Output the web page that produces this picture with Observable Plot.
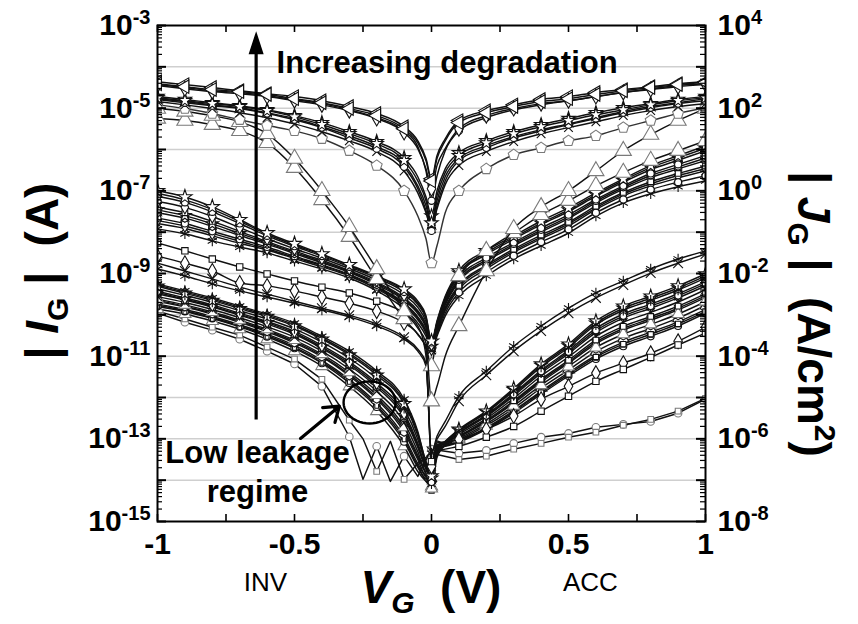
<!DOCTYPE html>
<html><head><meta charset="utf-8">
<script src="https://cdn.jsdelivr.net/npm/d3@7"></script>
<script src="https://cdn.jsdelivr.net/npm/@observablehq/plot@0.6"></script>
<style>body{margin:0;background:#fff}#chart{width:858px;height:624px}</style>
</head><body><div id="chart"></div>
<script>
// ---------- data: gate voltage grids (V) ----------
const VG = [-1,-0.9,-0.8,-0.7,-0.6,-0.5,-0.4,-0.3,-0.2,-0.1,-0.05,-0.02,0,0.02,0.05,0.1,0.2,0.3,0.4,0.5,0.6,0.7,0.8,0.9,1];
const VG_fine = [-1,-0.9,-0.8,-0.7,-0.6,-0.5,-0.4,-0.3,-0.25,-0.2,-0.15,-0.1,-0.05,0,0.1,0.2,0.3,0.4,0.5,0.6,0.7,0.8,0.9,1];

// ---------- data: log10 |IG| (A) ----------
const A1 = [-4.41,-4.48,-4.55,-4.60,-4.67,-4.77,-4.87,-5.01,-5.18,-5.50,-5.84,-6.27,-6.76,-6.22,-5.79,-5.35,-5.11,-4.96,-4.84,-4.77,-4.67,-4.58,-4.50,-4.43,-4.38];
const A2 = [-4.45,-4.53,-4.60,-4.65,-4.72,-4.82,-4.92,-5.06,-5.25,-5.59,-5.98,-6.47,-6.95,-6.39,-5.98,-5.50,-5.18,-5.01,-4.89,-4.82,-4.72,-4.62,-4.55,-4.48,-4.43];
const A3 = [-4.36,-4.43,-4.50,-4.58,-4.65,-4.72,-4.82,-4.96,-5.13,-5.45,-5.79,-6.22,-6.71,-6.15,-5.74,-5.30,-5.06,-4.92,-4.79,-4.72,-4.62,-4.55,-4.48,-4.41,-4.36];
const A4 = [-4.43,-4.50,-4.58,-4.62,-4.70,-4.79,-4.89,-5.04,-5.23,-5.55,-5.93,-6.52,-7.24,-6.64,-6.03,-5.55,-5.23,-5.04,-4.92,-4.82,-4.72,-4.62,-4.53,-4.45,-4.41];
const B1 = [-4.75,-4.82,-4.89,-4.96,-5.06,-5.21,-5.40,-5.62,-5.86,-6.27,-6.76,-7.24,-7.78,-7.12,-6.56,-6.15,-5.84,-5.62,-5.45,-5.30,-5.16,-5.04,-4.92,-4.82,-4.75];
const B2 = [-4.79,-4.87,-4.94,-5.01,-5.13,-5.28,-5.47,-5.72,-5.98,-6.42,-6.95,-7.48,-7.97,-7.36,-6.76,-6.27,-5.96,-5.72,-5.55,-5.40,-5.25,-5.11,-4.99,-4.89,-4.82];
const B3 = [-4.77,-4.84,-4.92,-4.99,-5.11,-5.25,-5.45,-5.67,-5.93,-6.35,-6.88,-7.36,-7.85,-7.24,-6.66,-6.22,-5.91,-5.69,-5.52,-5.38,-5.23,-5.08,-4.96,-4.87,-4.77];
const B4 = [-4.72,-4.79,-4.87,-4.94,-5.04,-5.18,-5.35,-5.57,-5.81,-6.20,-6.66,-7.15,-7.61,-7.00,-6.47,-6.08,-5.79,-5.57,-5.40,-5.25,-5.11,-4.99,-4.89,-4.79,-4.72];
const B5 = [-4.84,-4.92,-5.01,-5.11,-5.23,-5.38,-5.57,-5.79,-6.05,-6.52,-7.05,-7.53,-7.92,-7.44,-6.85,-6.39,-6.05,-5.81,-5.62,-5.47,-5.33,-5.18,-5.06,-4.96,-4.89];
const C1 = [-4.92,-5.01,-5.13,-5.28,-5.42,-5.55,-5.74,-6.03,-6.39,-7.00,-7.61,-8.16,-8.75,-8.33,-7.53,-7.00,-6.47,-6.13,-5.96,-5.79,-5.67,-5.47,-5.30,-5.13,-4.99];
const D1 = [-5.01,-5.08,-5.18,-5.33,-5.62,-6.22,-7.00,-7.87,-8.89,-9.91,-10.32,-10.68,-12.09,-11.73,-11.00,-10.27,-8.94,-7.92,-7.39,-7.00,-6.52,-6.03,-5.64,-5.30,-5.01];
const D2 = [-5.25,-5.30,-5.40,-5.55,-5.84,-6.44,-7.22,-8.11,-9.13,-10.10,-10.47,-10.78,-11.24,-10.39,-9.67,-9.06,-8.45,-8.02,-7.58,-7.24,-6.88,-6.56,-6.27,-6.03,-5.79];
const E1 = [-7.00,-7.15,-7.39,-7.70,-8.02,-8.28,-8.53,-8.79,-9.06,-9.38,-9.67,-10.03,-10.64,-10.15,-9.55,-8.94,-8.45,-8.09,-7.73,-7.41,-7.05,-6.71,-6.39,-6.15,-5.91];
const E2 = [-7.13,-7.28,-7.51,-7.79,-8.09,-8.34,-8.58,-8.84,-9.11,-9.45,-9.75,-10.10,-10.67,-10.26,-9.69,-9.11,-8.62,-8.25,-7.90,-7.58,-7.21,-6.88,-6.58,-6.36,-6.15];
const E3 = [-7.26,-7.40,-7.62,-7.89,-8.16,-8.40,-8.63,-8.88,-9.16,-9.52,-9.82,-10.17,-10.71,-10.20,-9.62,-9.03,-8.54,-8.17,-7.82,-7.50,-7.13,-6.79,-6.49,-6.26,-6.03];
const E4 = [-7.39,-7.53,-7.74,-7.98,-8.23,-8.46,-8.68,-8.93,-9.21,-9.59,-9.90,-10.24,-10.74,-10.36,-9.82,-9.29,-8.80,-8.41,-8.07,-7.76,-7.37,-7.04,-6.78,-6.58,-6.40];
const E5 = [-7.53,-7.66,-7.86,-8.08,-8.29,-8.52,-8.74,-8.97,-9.27,-9.65,-9.97,-10.31,-10.78,-10.31,-9.76,-9.20,-8.71,-8.33,-7.99,-7.67,-7.29,-6.96,-6.68,-6.47,-6.27];
const E6 = [-7.66,-7.79,-7.98,-8.17,-8.36,-8.58,-8.79,-9.02,-9.32,-9.72,-10.05,-10.38,-10.81,-10.47,-9.96,-9.46,-8.97,-8.57,-8.24,-7.93,-7.53,-7.21,-6.97,-6.79,-6.64];
const E7 = [-7.79,-7.91,-8.09,-8.27,-8.43,-8.64,-8.84,-9.06,-9.37,-9.79,-10.12,-10.45,-10.85,-10.41,-9.89,-9.38,-8.89,-8.49,-8.16,-7.85,-7.45,-7.12,-6.88,-6.69,-6.52];
const E8 = [-7.92,-8.04,-8.21,-8.36,-8.50,-8.70,-8.89,-9.11,-9.42,-9.86,-10.20,-10.52,-10.88,-10.52,-10.03,-9.55,-9.06,-8.65,-8.33,-8.02,-7.61,-7.29,-7.07,-6.90,-6.76];
const E9 = [-7.06,-7.22,-7.45,-7.74,-8.05,-8.31,-8.55,-8.81,-9.08,-9.41,-9.71,-10.06,-10.65,-10.23,-9.72,-9.16,-8.67,-8.29,-7.95,-7.63,-7.25,-6.92,-6.63,-6.42,-6.21];
const E10 = [-7.46,-7.60,-7.80,-8.03,-8.26,-8.49,-8.71,-8.95,-9.24,-9.62,-9.93,-10.27,-10.76,-10.18,-9.58,-8.99,-8.50,-8.13,-7.78,-7.46,-7.09,-6.75,-6.44,-6.20,-5.97];
const E11 = [-7.72,-7.85,-8.03,-8.22,-8.40,-8.61,-8.81,-9.04,-9.34,-9.75,-10.08,-10.41,-10.83,-10.44,-9.86,-9.33,-8.84,-8.45,-8.12,-7.80,-7.41,-7.08,-6.83,-6.63,-6.46];
const F1 = [-8.26,-8.45,-8.65,-8.84,-9.01,-9.18,-9.33,-9.47,-9.67,-9.96,-10.27,-11.00,-13.55,-13.30,-13.25,-13.18,-12.96,-12.70,-12.33,-11.97,-11.61,-11.32,-11.03,-10.73,-10.44];
const F2 = [-8.58,-8.75,-8.94,-9.23,-9.30,-9.42,-9.57,-9.72,-9.91,-10.20,-10.47,-10.83,-13.67,-13.18,-13.11,-13.01,-12.77,-12.45,-12.04,-11.73,-11.41,-11.17,-10.93,-10.64,-10.30];
const F3 = [-8.89,-9.06,-9.25,-9.42,-9.57,-9.72,-9.88,-10.05,-10.27,-10.59,-10.88,-11.24,-13.35,-12.94,-12.58,-11.97,-11.36,-10.76,-10.27,-9.84,-9.47,-9.18,-8.89,-8.65,-8.45];
const F4 = [-8.75,-8.94,-9.13,-9.33,-9.50,-9.67,-9.84,-10.01,-10.22,-10.54,-10.83,-11.17,-13.30,-13.01,-12.70,-12.09,-11.46,-10.88,-10.39,-9.96,-9.59,-9.28,-8.99,-8.75,-8.53];
const G1 = [-9.25,-9.42,-9.59,-9.79,-9.98,-10.20,-10.52,-10.88,-11.36,-12.04,-12.82,-13.55,-13.70,-13.10,-13.07,-12.80,-12.37,-11.84,-11.26,-10.79,-10.24,-9.89,-9.65,-9.40,-9.11];
const G2 = [-9.31,-9.48,-9.65,-9.85,-10.04,-10.27,-10.59,-10.97,-11.46,-12.15,-12.92,-13.60,-13.90,-13.25,-13.06,-12.77,-12.33,-11.78,-11.19,-10.71,-10.15,-9.79,-9.55,-9.30,-9.01];
const G3 = [-9.37,-9.53,-9.70,-9.90,-10.10,-10.34,-10.66,-11.05,-11.55,-12.27,-13.01,-13.65,-14.10,-13.30,-13.10,-12.86,-12.46,-11.96,-11.41,-10.94,-10.43,-10.08,-9.84,-9.59,-9.30];
const G4 = [-9.43,-9.59,-9.76,-9.96,-10.16,-10.40,-10.74,-11.14,-11.65,-12.38,-13.11,-13.69,-13.80,-13.15,-13.08,-12.83,-12.42,-11.90,-11.34,-10.86,-10.33,-9.98,-9.74,-9.49,-9.20];
const G5 = [-9.49,-9.64,-9.81,-10.01,-10.22,-10.47,-10.81,-11.22,-11.75,-12.50,-13.21,-13.74,-14.00,-13.40,-13.12,-12.93,-12.55,-12.08,-11.56,-11.10,-10.61,-10.28,-10.04,-9.79,-9.49];
const G6 = [-9.56,-9.70,-9.87,-10.07,-10.29,-10.54,-10.88,-11.31,-11.85,-12.61,-13.31,-13.79,-13.75,-13.20,-13.11,-12.89,-12.51,-12.02,-11.48,-11.02,-10.52,-10.18,-9.94,-9.69,-9.39];
const G7 = [-9.62,-9.76,-9.93,-10.13,-10.35,-10.61,-10.95,-11.39,-11.94,-12.72,-13.40,-13.84,-14.20,-13.35,-13.14,-12.99,-12.64,-12.20,-11.70,-11.25,-10.79,-10.47,-10.23,-9.98,-9.68];
const G8 = [-9.68,-9.81,-9.98,-10.18,-10.41,-10.68,-11.02,-11.48,-12.04,-12.84,-13.50,-13.89,-13.85,-13.05,-13.13,-12.96,-12.59,-12.14,-11.63,-11.17,-10.70,-10.37,-10.13,-9.88,-9.58];
const G9 = [-9.74,-9.87,-10.04,-10.24,-10.47,-10.74,-11.10,-11.56,-12.14,-12.95,-13.60,-13.93,-14.05,-13.30,-13.17,-13.05,-12.73,-12.32,-11.85,-11.40,-10.98,-10.66,-10.42,-10.17,-9.87];
const G10 = [-9.80,-9.92,-10.09,-10.29,-10.53,-10.81,-11.17,-11.65,-12.23,-13.07,-13.69,-13.98,-13.90,-13.20,-13.18,-13.08,-12.77,-12.38,-11.92,-11.48,-11.07,-10.76,-10.52,-10.27,-9.96];
const G11 = [-9.86,-9.98,-10.15,-10.35,-10.59,-10.88,-11.24,-11.73,-12.33,-13.18,-13.79,-14.03,-14.15,-13.45,-13.16,-13.02,-12.68,-12.26,-11.77,-11.33,-10.89,-10.57,-10.33,-10.08,-9.77];
const G12 = [-9.28,-9.45,-9.62,-9.82,-10.01,-10.24,-10.56,-10.93,-11.41,-12.10,-12.87,-13.58,-14.05,-13.22,-13.09,-12.85,-12.44,-11.93,-11.37,-10.90,-10.38,-10.03,-9.79,-9.54,-9.25];
const G13 = [-9.46,-9.62,-9.79,-9.99,-10.19,-10.44,-10.78,-11.18,-11.70,-12.44,-13.16,-13.72,-13.95,-13.30,-13.07,-12.79,-12.35,-11.81,-11.22,-10.75,-10.20,-9.84,-9.60,-9.35,-9.06];
const G14 = [-9.65,-9.79,-9.96,-10.16,-10.38,-10.65,-10.99,-11.44,-12.00,-12.78,-13.45,-13.87,-14.25,-13.25,-13.17,-13.06,-12.75,-12.35,-11.88,-11.44,-11.02,-10.71,-10.47,-10.22,-9.92];
const G15 = [-9.77,-9.90,-10.07,-10.27,-10.50,-10.78,-11.14,-11.60,-12.19,-13.01,-13.65,-13.96,-13.70,-13.15,-13.12,-12.94,-12.58,-12.11,-11.59,-11.14,-10.66,-10.33,-10.09,-9.84,-9.54];
const H1 = [-9.96,-10.18,-10.37,-10.59,-10.88,-11.19,-11.73,-12.95,-13.98,-13.18,-14.03,-13.42,-13.91,-13.25,-13.35,-13.28,-13.11,-12.96,-12.87,-12.72,-12.65,-12.58,-12.38,-12.04];
const H2 = [-9.91,-10.10,-10.30,-10.49,-10.78,-11.07,-11.56,-12.55,-13.00,-13.79,-13.06,-13.98,-13.59,-13.35,-13.50,-13.42,-13.25,-13.11,-12.96,-12.84,-12.67,-12.53,-12.33,-12.02];

// ---------- axes / ticks ----------
const xTickLabels = [-1, -0.5, 0, 0.5, 1];
const xMinorTicks = [-1, -0.75, -0.5, -0.25, 0, 0.25, 0.5, 0.75, 1];
const yLabelExponents = [-15, -13, -11, -9, -7, -5, -3];
const yGridExponents = [-14, -13, -12, -11, -10, -9, -8, -7, -6, -5, -4];
const gateArea = 1e-7; // cm^2, JG = IG / area

// ---------- annotations (data space) ----------
const degradationArrow = [{V: -0.64, logFrom: -12.53, logTo: -3.62, logTip: -3.51}];
const leakageArrow = [{V1: -0.478, log1: -12.99, V2: -0.336, log2: -12.21}];
const leakageEllipse = [{V: -0.226, log: -12.12}];
const notes = [
  {V: 0.057, log: -3.85, text: "Increasing degradation"},
  {V: -0.635, log: -13.76, text: "Low leakage\nregime"}
];
const regionNotes = [{V: -0.606, text: "INV"}, {V: 0.58, text: "ACC"}];

// ---------- symbols ----------
const triLeft = {draw(ctx, size) {
  const y = -Math.sqrt(size / (Math.sqrt(3) * 3)), s = Math.sqrt(3);
  ctx.moveTo(2 * y, 0); ctx.lineTo(-y, -s * y); ctx.lineTo(-y, s * y); ctx.closePath();
}};
const pentagon = {draw(ctx, size) {
  const R = Math.sqrt(size / (2.5 * Math.sin(2 * Math.PI / 5)));
  for (let k = 0; k < 5; k++) {
    const a = -Math.PI / 2 + k * 2 * Math.PI / 5;
    if (k === 0) ctx.moveTo(R * Math.cos(a), R * Math.sin(a)); else ctx.lineTo(R * Math.cos(a), R * Math.sin(a));
  }
  ctx.closePath();
}};
const arrowHead = {draw(ctx) { ctx.moveTo(0, -13); ctx.lineTo(6.5, 7); ctx.lineTo(-6.5, 7); ctx.closePath(); }};
const ellipse = {draw(ctx) {
  const n = 48, rx = 26, ry = 21;
  for (let k = 0; k <= n; k++) {
    const a = k / n * 2 * Math.PI;
    if (k === 0) ctx.moveTo(rx * Math.cos(a), ry * Math.sin(a)); else ctx.lineTo(rx * Math.cos(a), ry * Math.sin(a));
  }
  ctx.closePath();
}};

const DARK = "#111", GRAY = "#7a7a7a";
const curves = [
  {v: VG_fine, logI: H1, symbol: "circle", r: 3.8, color: DARK, mk: GRAY, curve: "linear"},
  {v: VG_fine, logI: H2, symbol: "square", r: 3.2, color: DARK, mk: GRAY, curve: "linear"},
  {v: VG, logI: G11, symbol: "triangle", r: 4.5, color: DARK, mk: GRAY},
  {v: VG, logI: G15, symbol: "circle", r: 3.3, color: DARK, mk: DARK},
  {v: VG, logI: G10, symbol: "circle", r: 3.5, color: DARK, mk: DARK},
  {v: VG, logI: G9, symbol: "wye", r: 4, color: DARK, mk: DARK},
  {v: VG, logI: G14, symbol: "square", r: 3, color: DARK, mk: DARK},
  {v: VG, logI: G8, symbol: "hexagon", r: 3.5, color: DARK, mk: DARK},
  {v: VG, logI: G7, symbol: "triangle", r: 4.5, color: DARK, mk: GRAY},
  {v: VG, logI: G6, symbol: "times", r: 4, color: DARK, mk: DARK},
  {v: VG, logI: G5, symbol: "square", r: 3.2, color: DARK, mk: DARK},
  {v: VG, logI: G13, symbol: "star", r: 4, color: DARK, mk: DARK},
  {v: VG, logI: G4, symbol: "diamond", r: 4, color: DARK, mk: DARK},
  {v: VG, logI: G3, symbol: "asterisk", r: 4.5, color: DARK, mk: DARK},
  {v: VG, logI: G12, symbol: "circle", r: 3.3, color: DARK, mk: DARK},
  {v: VG, logI: G2, symbol: "star", r: 4.2, color: DARK, mk: DARK},
  {v: VG, logI: G1, symbol: "asterisk", r: 5, color: DARK, mk: DARK},
  {v: VG, logI: F4, symbol: "times", r: 4.5, color: DARK, mk: DARK},
  {v: VG, logI: F3, symbol: "asterisk", r: 5, color: DARK, mk: DARK},
  {v: VG, logI: F2, symbol: "diamond", r: 4.5, color: DARK, mk: DARK},
  {v: VG, logI: F1, symbol: "square", r: 3.6, color: DARK, mk: DARK},
  {v: VG, logI: E8, symbol: "asterisk", r: 5, color: DARK, mk: DARK},
  {v: VG, logI: E7, symbol: "times", r: 4, color: DARK, mk: DARK},
  {v: VG, logI: E11, symbol: "diamond", r: 3.8, color: DARK, mk: DARK},
  {v: VG, logI: E6, symbol: "circle", r: 3.5, color: DARK, mk: DARK},
  {v: VG, logI: E5, symbol: "hexagon", r: 3.6, color: DARK, mk: DARK},
  {v: VG, logI: E10, symbol: "star", r: 4, color: DARK, mk: DARK},
  {v: VG, logI: E4, symbol: "square", r: 3.2, color: DARK, mk: DARK},
  {v: VG, logI: E3, symbol: "diamond", r: 4, color: DARK, mk: DARK},
  {v: VG, logI: E9, symbol: "circle", r: 3.3, color: DARK, mk: DARK},
  {v: VG, logI: E2, symbol: "circle", r: 3.5, color: DARK, mk: DARK},
  {v: VG, logI: E1, symbol: "star", r: 4.5, color: DARK, mk: DARK},
  {v: VG, logI: D2, symbol: "triangle", r: 6, color: DARK, mk: GRAY},
  {v: VG, logI: D1, symbol: "triangle", r: 6, color: DARK, mk: GRAY},
  {v: VG, logI: C1, symbol: pentagon, r: 5, color: "#333", mk: GRAY},
  {v: VG, logI: B5, symbol: "times", r: 4, color: DARK, mk: DARK},
  {v: VG, logI: B4, symbol: "star", r: 4.2, color: DARK, mk: DARK},
  {v: VG, logI: B3, symbol: "asterisk", r: 4.5, color: DARK, mk: DARK},
  {v: VG, logI: B2, symbol: "circle", r: 3.6, color: DARK, mk: DARK},
  {v: VG, logI: B1, symbol: "star", r: 4.2, color: DARK, mk: DARK},
  {v: VG, logI: A4, symbol: "circle", r: 3.6, color: DARK, mk: DARK},
  {v: VG, logI: A3, symbol: triLeft, r: 5, color: DARK, mk: DARK},
  {v: VG, logI: A2, symbol: "diamond", r: 4.5, color: DARK, mk: DARK},
  {v: VG, logI: A1, symbol: triLeft, r: 5, color: DARK, mk: DARK}
];

const FONT = "'Liberation Sans', Arial, Helvetica, sans-serif";
const W = 858, H = 624, ML = 157, MR = 153, MT = 25, MB = 103;
const FW = W - ML - MR, FH = H - MT - MB;

const decades = d3.range(-15, -2).map(e => 10 ** e);
const minorTicks = [];
for (let e = -15; e < -3; e++) for (let k = 2; k <= 9; k++) minorTicks.push(k * 10 ** e);

const curveMarks = [];
for (const c of curves) {
  const rows = c.v.map((V, i) => ({V, I: 10 ** c.logI[i]}));
  const markerRows = rows.filter(d => Math.abs(d.V * 10 - Math.round(d.V * 10)) < 1e-6);
  curveMarks.push(Plot.line(rows, {x: "V", y: "I", stroke: c.color, strokeWidth: 1.45, curve: c.curve || "monotone-x", clip: true}));
  curveMarks.push(Plot.dot(markerRows, {x: "V", y: "I", symbol: c.symbol, r: c.r, stroke: c.mk, fill: "white", strokeWidth: 1.1, clip: true}));
}

const supFmt = e => "10^" + e;

const svg = Plot.plot({
  width: W, height: H,
  marginLeft: ML, marginRight: MR, marginTop: MT, marginBottom: MB,
  style: {fontFamily: FONT, background: "white", color: "black", overflow: "visible"},
  x: {domain: [-1, 1], axis: null, label: null},
  y: {type: "log", domain: [1e-15, 1e-3], axis: null, label: null},
  marks: [
    Plot.ruleY(yGridExponents.map(e => 10 ** e), {stroke: "#cfcfcf", strokeWidth: 1.5}),
    ...curveMarks,
    // annotations
    Plot.link(degradationArrow, {x1: "V", x2: "V", y1: d => 10 ** d.logFrom, y2: d => 10 ** d.logTo, stroke: "black", strokeWidth: 3.2}),
    Plot.dot(degradationArrow, {x: "V", y: d => 10 ** d.logTip, symbol: arrowHead, fill: "black", stroke: "black", r: 5}),
    Plot.arrow(leakageArrow, {x1: "V1", y1: d => 10 ** d.log1, x2: "V2", y2: d => 10 ** d.log2, stroke: "black", strokeWidth: 3.2, headLength: 11, headAngle: 70}),
    Plot.dot(leakageEllipse, {x: "V", y: d => 10 ** d.log, symbol: ellipse, r: 5, fill: "none", stroke: "black", strokeWidth: 2.4}),
    Plot.text(notes, {x: "V", y: d => 10 ** d.log, text: "text", fontSize: 31, fontWeight: "bold", lineHeight: 1.23, fill: "black"}),
    Plot.text(regionNotes, {x: "V", text: "text", frameAnchor: "bottom", dy: 69, fontSize: 26, fontWeight: "normal", fill: "black"}),
    // inner ticks
    Plot.tickX(xMinorTicks, {x: d => d, insetTop: FH - 7, stroke: "black", strokeWidth: 1.6}),
    Plot.tickX(xMinorTicks, {x: d => d, insetBottom: FH - 7, stroke: "black", strokeWidth: 1.6}),
    Plot.tickY(decades, {y: d => d, insetRight: FW - 9, stroke: "black", strokeWidth: 2}),
    Plot.tickY(decades, {y: d => d, insetLeft: FW - 9, stroke: "black", strokeWidth: 2}),
    Plot.tickY(minorTicks, {y: d => d, insetRight: FW - 5, stroke: "black", strokeWidth: 1.2}),
    Plot.tickY(minorTicks, {y: d => d, insetLeft: FW - 5, stroke: "black", strokeWidth: 1.2}),
    Plot.frame({stroke: "black", strokeWidth: 2}),
    // tick labels
    Plot.axisX({ticks: xTickLabels, tickSize: 0, tickPadding: 11, tickFormat: d => String(d), fontSize: 30, fontWeight: "bold", label: null}),
    Plot.axisY({anchor: "left", ticks: yLabelExponents.map(e => 10 ** e), tickSize: 0, tickPadding: 7,
      tickFormat: d => supFmt(Math.round(Math.log10(d))), fontSize: 30, fontWeight: "bold", label: null}),
    Plot.axisY({anchor: "right", ticks: yLabelExponents.map(e => 10 ** e), tickSize: 0, tickPadding: 12,
      tickFormat: d => supFmt(Math.round(Math.log10(d / gateArea))), fontSize: 30, fontWeight: "bold", label: null})
  ]
});
document.getElementById("chart").append(svg);

// superscript exponents in tick labels
d3.select(svg).selectAll("text").each(function () {
  const m = /^10\^(-?\d+)$/.exec(this.textContent);
  if (!m) return;
  const t = d3.select(this);
  t.text("10");
  t.append("tspan").attr("dy", "-0.55em").attr("font-size", 20).text(m[1]);
});

// axis titles with italic letters and sub/superscripts
const g = d3.select(svg).append("g").attr("font-family", FONT).attr("font-weight", "bold").attr("fill", "black").style("white-space", "pre");
const xt = g.append("text").attr("x", ML + FW / 2).attr("y", 603).attr("text-anchor", "middle").attr("font-size", 46);
xt.append("tspan").attr("font-style", "italic").text("V");
xt.append("tspan").attr("font-style", "italic").attr("font-size", 30).attr("dy", 10).text("G");
xt.append("tspan").attr("dy", -10).text("  (V)");

const yl = g.append("text").attr("transform", "translate(58,271) rotate(-90)").attr("text-anchor", "middle").attr("font-size", 46);
yl.append("tspan").text("| ");
yl.append("tspan").attr("font-style", "italic").text("I");
yl.append("tspan").attr("font-size", 30).attr("dy", 10).text("G");
yl.append("tspan").attr("dy", -10).text(" |  (A)");

const yr = g.append("text").attr("transform", "translate(798,314) rotate(90)").attr("text-anchor", "middle").attr("font-size", 46);
yr.append("tspan").text("| ");
yr.append("tspan").attr("font-style", "italic").text("J");
yr.append("tspan").attr("font-size", 30).attr("dy", 10).text("G");
yr.append("tspan").attr("dy", -10).text(" |  (A/cm");
yr.append("tspan").attr("font-size", 30).attr("dy", -17).text("2");
yr.append("tspan").attr("dy", 17).text(")");
</script>
</body></html>
